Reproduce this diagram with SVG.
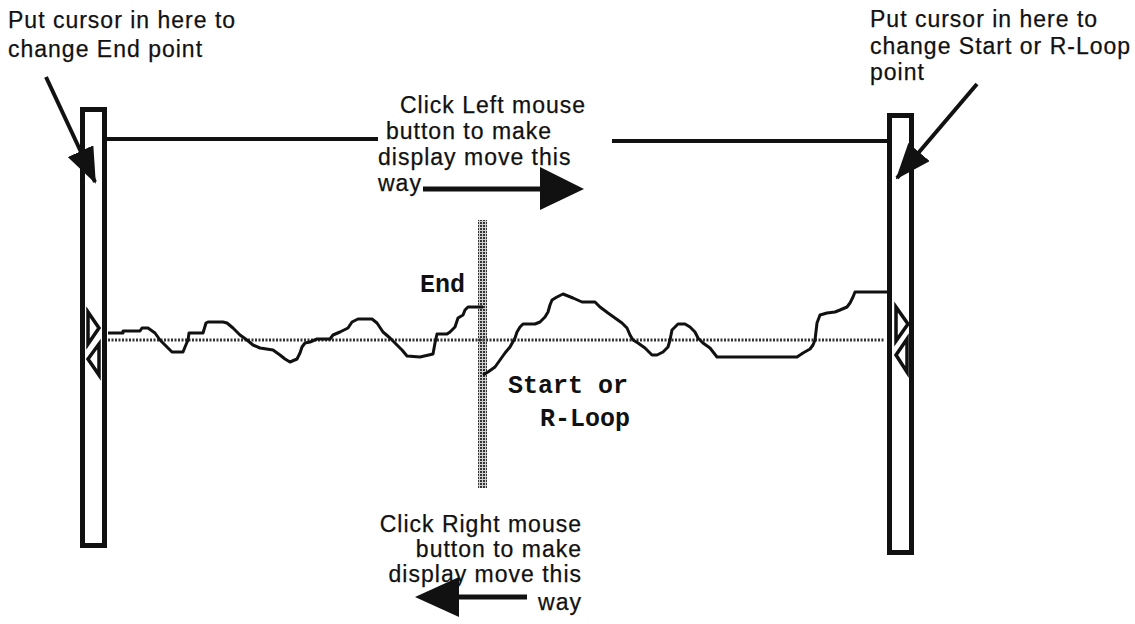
<svg xmlns="http://www.w3.org/2000/svg" width="1135" height="624" viewBox="0 0 1135 624">
<style>
.lbl{font-family:"Liberation Sans",Arial,Helvetica,sans-serif;font-size:23px;letter-spacing:1px;fill:#111;stroke:#111;stroke-width:0.25}
.mono{font-family:"Liberation Mono","Courier New",monospace;font-size:25px;font-weight:bold;fill:#111}
.bar{fill:#fff;stroke:#111;stroke-width:5}
.tri{fill:none;stroke:#111;stroke-width:3.5;stroke-linejoin:miter}
.ln{fill:none;stroke:#111;stroke-width:4}
.wave{fill:none;stroke:#111;stroke-width:3;stroke-linejoin:round}
.arr{fill:none;stroke:#111;stroke-width:4}
.fat{fill:none;stroke:#111;stroke-width:5}
.head{fill:#111}
.dots{fill:none;stroke:#333;stroke-width:3;stroke-dasharray:2 1.5}
</style>
<defs>
<pattern id="stip" width="3" height="3" patternUnits="userSpaceOnUse">
<rect width="3" height="3" fill="#cfcfcf"/>
<rect width="2" height="2" fill="#333"/>
</pattern>
<marker id="ah" markerWidth="36" markerHeight="28" refX="34" refY="14" orient="auto" markerUnits="userSpaceOnUse">
<path d="M0,0 L36,14 L0,28 Z" fill="#111"/>
</marker>
</defs>
<rect width="1135" height="624" fill="#fff"/>

<g id="left-bar">
<rect class="bar" x="82.5" y="109.5" width="22" height="436"/>
<polygon class="tri" points="88,312 99,328 88,344"/>
<polygon class="tri" points="99,344 88,359 99,375"/>
</g>

<g id="right-bar">
<rect class="bar" x="889.5" y="115.5" width="22" height="437"/>
<polygon class="tri" points="896,307 908,324 896,341"/>
<polygon class="tri" points="907,339 896,355 907,372"/>
</g>

<g id="cursor-band">
<rect x="478" y="220" width="9" height="268" fill="url(#stip)"/>
</g>

<g id="baseline">
<line class="dots" x1="108" y1="340" x2="884" y2="340"/>
</g>

<g id="waveform">
<polyline class="wave" points="108,333 123,333 123,331 140,331 142,328 148,328 155,333 160,340 170,350 172,352 183,352 185,347 188,340 189,333 203,333 206,323 208,322 223,322 227,323 233,328 240,335 247,340 253,345 260,348 273,350 280,355 285,359 290,362 297,359 300,353 302,347 305,343 310,342 317,339 330,339 333,335 340,332 348,328 352,322 358,319 372,319 377,323 383,332 390,338 395,343 402,350 407,356 420,357 433,354 435,343 437,334 447,334 450,332 455,327 458,318 463,315 465,310 468,307 483,307"/>
<polyline class="wave" points="483,375 488,372 495,367 500,360 505,353 510,347 515,338 517,332 520,327 523,324 535,324 540,322 545,317 548,312 550,305 552,300 557,297 563,294 568,296 573,298 582,302 595,302 600,307 608,313 615,318 622,323 627,328 630,335 633,340 638,343 645,348 652,355 657,355 663,352 668,347 670,340 672,330 675,327 678,324 685,324 690,327 695,332 698,338 703,343 710,348 717,357 797,357 803,353 810,349 813,345 815,340 817,323 820,315 827,313 835,312 840,310 847,307 850,303 853,297 855,292 887,292"/>
</g>

<g id="connectors">
<line class="ln" x1="105" y1="139" x2="378" y2="139"/>
<line class="ln" x1="612" y1="141" x2="888" y2="141"/>
<line class="arr" x1="46" y1="77" x2="95" y2="182" marker-end="url(#ah)"/>
<line class="arr" x1="977" y1="84" x2="897" y2="178" marker-end="url(#ah)"/>
<line class="fat" x1="423" y1="189" x2="545" y2="189"/>
<polygon class="head" points="540,167 584,189 540,210"/>
<line class="fat" x1="455" y1="597" x2="527" y2="597"/>
<polygon class="head" points="459,577 415,597 459,617"/>
</g>

<g id="label-end-cursor">
<text class="lbl" x="8" y="28">Put cursor in here to</text>
<text class="lbl" x="8" y="57">change End point</text>
</g>

<g id="label-start-cursor">
<text class="lbl" x="870" y="27">Put cursor in here to</text>
<text class="lbl" x="870" y="54">change Start or R-Loop</text>
<text class="lbl" x="870" y="80">point</text>
</g>

<g id="label-left-click">
<text class="lbl" x="400" y="113">Click Left mouse</text>
<text class="lbl" x="386" y="139">button to make</text>
<text class="lbl" x="378" y="165">display move this</text>
<text class="lbl" x="378" y="191">way</text>
</g>

<g id="label-right-click">
<text class="lbl" x="582" y="532" text-anchor="end">Click Right mouse</text>
<text class="lbl" x="582" y="557" text-anchor="end">button to make</text>
<text class="lbl" x="582" y="582" text-anchor="end">display move this</text>
<text class="lbl" x="582" y="610" text-anchor="end">way</text>
</g>

<g id="marker-labels">
<text class="mono" x="420" y="292">End</text>
<text class="mono" x="508" y="393">Start or</text>
<text class="mono" x="540" y="426">R-Loop</text>
</g>
</svg>
